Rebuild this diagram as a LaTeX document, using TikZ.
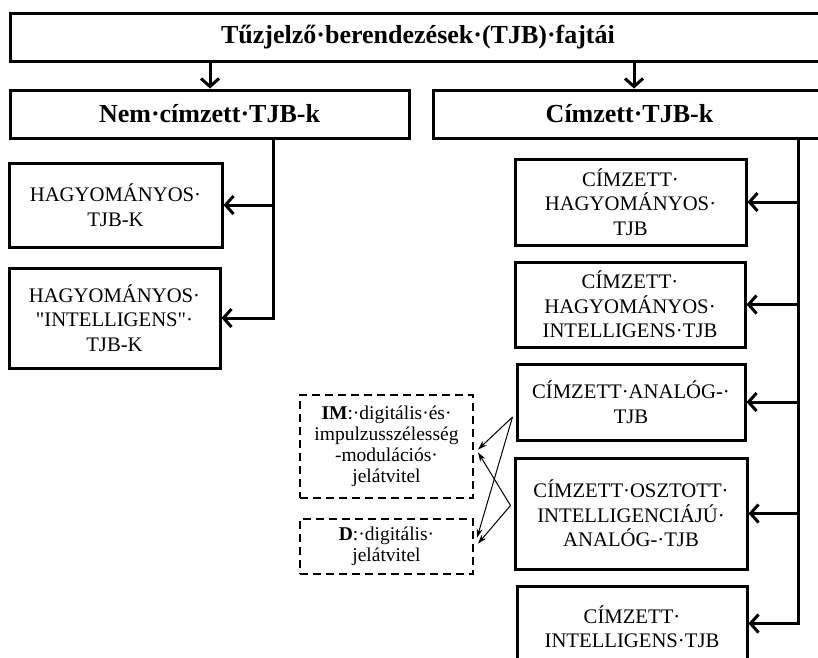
\documentclass[tikz,border=0pt]{standalone}
\usepackage{fontspec}
\setmainfont{Liberation Serif}
\newfontfamily\qfont{Liberation Serif}
\usetikzlibrary{arrows.meta,calc,shadows}
\begin{document}
\begin{tikzpicture}[x=1pt,y=-1pt,
  box/.style={draw,line width=3pt,rectangle,inner sep=0pt,align=center,fill=white,
    drop shadow={shadow xshift=1.5pt,shadow yshift=-1.5pt,opacity=0.25},
    font=\fontsize{20.7}{24.5}\selectfont},
  headbox/.style={box,font=\fontsize{26}{30}\selectfont\bfseries},
  dbox/.style={draw,line width=2.2pt,dash pattern=on 8pt off 5pt,rectangle,inner sep=0pt,align=center,
    font=\fontsize{19.5}{21}\selectfont},
  arr/.style={line width=3pt,-{Straight Barb[length=8pt,width=18pt,line width=3pt]}},
  thin/.style={line width=1pt,-{Stealth[length=9pt,width=6pt]}}]
\useasboundingbox (0,0) rectangle (818,657);
\fill[white] (0,0) rectangle (818,657);

\node[headbox,minimum width=816pt,minimum height=48pt] (top) at (418,37) {Tűzjelző·berendezések·(TJB)·fajtái};
\node[headbox,minimum width=399pt,minimum height=48pt] (nem) at (209.5,114) {Nem·címzett·TJB-k};
\node[headbox,minimum width=393pt,minimum height=48pt] (cim) at (629.5,114) {Címzett·TJB-k};

\node[box,minimum width=213pt,minimum height=84pt] (h1) at (115.5,205) {HAGYOMÁNYOS·\\TJB-K};
\node[box,minimum width=211pt,minimum height=100pt] (h2) at (114.5,318) {HAGYOMÁNYOS·\\{\qfont"}INTELLIGENS{\qfont"}·\\TJB-K};

\node[box,minimum width=231pt,minimum height=86pt] (c1) at (630.5,202) {CÍMZETT·\\HAGYOMÁNYOS·\\TJB};
\node[box,minimum width=230pt,minimum height=85pt] (c2) at (630,304.5) {CÍMZETT·\\HAGYOMÁNYOS·\\INTELLIGENS·TJB};
\node[box,minimum width=228pt,minimum height=76pt] (c3) at (631,402) {CÍMZETT·ANALÓG-·\\TJB};
\node[box,minimum width=232pt,minimum height=111pt] (c4) at (631,513.5) {CÍMZETT·OSZTOTT·\\INTELLIGENCIÁJÚ·\\ANALÓG-·TJB};
\node[box,minimum width=230pt,minimum height=81pt] (c5) at (632,626.5) {CÍMZETT·\\INTELLIGENS·TJB};

\node[dbox,minimum width=173pt,minimum height=103pt] (im) at (386.5,446.5) {\textbf{IM}:·digitális·és·\\impulzusszélesség\\-modulációs·\\jelátvitel};
\node[dbox,minimum width=173pt,minimum height=55pt] (d) at (386.5,546.5) {\textbf{D}:·digitális·\\jelátvitel};

\coordinate (xa) at (210,0);
\coordinate (xb) at (634,0);
\coordinate (va) at (273,0);
\coordinate (vb) at (798,0);

\draw[arr] (top.south -| xa) -- (nem.north -| xa);
\draw[arr] (top.south -| xb) -- (cim.north -| xb);

\draw[arr] (nem.south -| va) |- (h2.east);
\draw[arr] (va |- h1.east) -- (h1.east);

\draw[arr] (cim.south -| vb) |- ($(c5.east)+(0,-3)$);
\draw[arr] (vb |- c1.east) -- (c1.east);
\draw[arr] (vb |- c2.east) -- (c2.east);
\draw[arr] (vb |- c3.east) -- (c3.east);
\draw[arr] (vb |- c4.east) -- (c4.east);

\coordinate (p3) at ($(c3.west)+(-3,15)$);
\coordinate (p4) at ($(c4.west)+(-3,-8)$);
\draw[thin] (p3) -- ($(im.east)+(4,3)$);
\draw[thin] (p3) -- ($(d.east)+(3,-9)$);
\draw[thin] (p4) -- ($(im.east)+(4,6)$);
\draw[thin] (p4) -- ($(d.east)+(4,-3)$);
\end{tikzpicture}
\end{document}
